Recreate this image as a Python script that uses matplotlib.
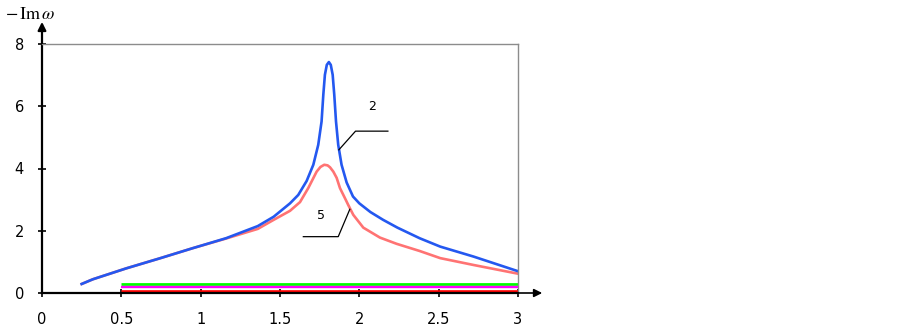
import matplotlib
matplotlib.use("Agg")
import matplotlib.pyplot as plt

# curve 2 (blue) and curve 5 (red)
x_blue = [0.25, 0.32, 0.53, 0.74, 0.95, 1.16, 1.36, 1.46, 1.563, 1.615, 1.668, 1.71,
          1.741, 1.762, 1.773, 1.783, 1.795, 1.808, 1.82, 1.832, 1.842, 1.853, 1.867,
          1.888, 1.92, 1.96, 2.0, 2.07, 2.15, 2.24, 2.38, 2.51, 2.72, 3.0]
y_blue = [0.29, 0.44, 0.79, 1.11, 1.44, 1.76, 2.15, 2.45, 2.88, 3.15, 3.6, 4.12,
          4.76, 5.51, 6.37, 7.01, 7.33, 7.42, 7.33, 7.01, 6.37, 5.51, 4.76,
          4.12, 3.55, 3.1, 2.88, 2.6, 2.35, 2.1, 1.76, 1.49, 1.17, 0.70]

x_red = [0.25, 0.32, 0.53, 0.74, 0.95, 1.16, 1.36, 1.46, 1.563, 1.626, 1.678, 1.731,
         1.755, 1.779, 1.80, 1.815, 1.836, 1.857, 1.878, 1.909, 1.93, 1.962, 2.025,
         2.13, 2.235, 2.38, 2.51, 2.72, 3.0]
y_red = [0.29, 0.44, 0.79, 1.11, 1.44, 1.75, 2.06, 2.35, 2.64, 2.92, 3.37, 3.9,
         4.05, 4.12, 4.1, 4.04, 3.9, 3.7, 3.37, 3.05, 2.83, 2.51, 2.1,
         1.78, 1.58, 1.35, 1.12, 0.9, 0.62]

# flat curves near zero
x_flat = [0.5, 3.0]
y_green = [0.30, 0.30]
y_magenta = [0.19, 0.19]
y_redflat = [0.06, 0.06]

xticks = [0, 0.5, 1, 1.5, 2, 2.5, 3]
xtick_labels = ["0", "0.5", "1", "1.5", "2", "2.5", "3"]
yticks = [0, 2, 4, 6, 8]

plt.rcParams['font.family'] = ['DejaVu Sans']
plt.rcParams['mathtext.fontset'] = 'stix'

fig = plt.figure(figsize=(9.02, 3.28), dpi=100)
ax = fig.add_axes([42 / 902, 35 / 328, 476 / 902, 249 / 328])

ax.plot(x_flat, y_green, color='#00ff00', lw=2.0, solid_capstyle='butt')
ax.plot(x_flat, y_magenta, color='#ff00ff', lw=1.7, solid_capstyle='butt')
ax.plot(x_flat, y_redflat, color='#ff0000', lw=1.9, solid_capstyle='butt')
ax.plot(x_red, y_red, color='#ff7373', lw=1.9)
ax.plot(x_blue, y_blue, color='#2458f0', lw=1.9)

# leader lines for curve labels
ax.plot([1.871, 1.976, 2.18], [4.6, 5.2, 5.2], color='black', lw=0.9)
ax.text(2.08, 5.98, "2", fontsize=9, ha='center', va='center')
ax.plot([1.94, 1.867, 1.647], [2.69, 1.81, 1.81], color='black', lw=0.9)
ax.text(1.758, 2.5, "5", fontsize=9, ha='center', va='center')

ax.set_xlim(0, 3)
ax.set_ylim(0, 8)
ax.set_xticks(xticks)
ax.set_xticklabels(xtick_labels)
ax.set_yticks(yticks)
ax.tick_params(direction='inout', length=6, width=1.2, labelsize=10.5)
ax.tick_params(axis='x', pad=11)
ax.tick_params(axis='y', pad=10)

for side in ['left', 'bottom']:
    ax.spines[side].set_linewidth(1.6)
    ax.spines[side].set_color('black')
for side in ['top', 'right']:
    ax.spines[side].set_linewidth(1.0)
    ax.spines[side].set_color('#8c8c8c')

# axis arrows
ax.annotate("", xy=(3.17, 0), xytext=(2.99, 0), annotation_clip=False,
            arrowprops=dict(arrowstyle='-|>', color='black', lw=1.2, mutation_scale=12))
ax.annotate("", xy=(0, 8.8), xytext=(0, 7.95), annotation_clip=False,
            arrowprops=dict(arrowstyle='-|>', color='black', lw=1.6, mutation_scale=12))

fig.text(5 / 902, 1 - 14 / 328, r"$-\,\mathrm{Im}\,\omega$", fontsize=13, va='center', ha='left')

fig.savefig("out.png", dpi=100)
